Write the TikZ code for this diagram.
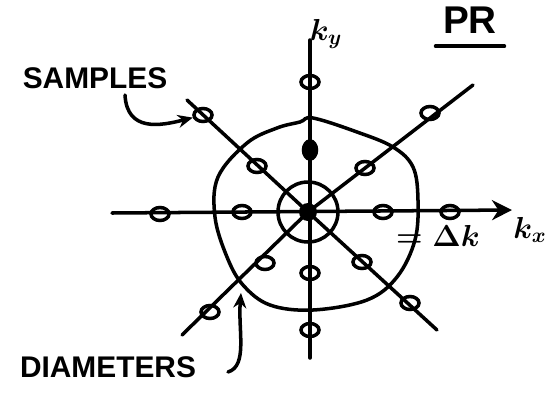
\documentclass[tikz,border=0pt]{standalone}
\usepackage{fontspec}
\setmainfont{Liberation Sans}
\usetikzlibrary{shapes.geometric,arrows.meta}
\begin{document}
\begin{tikzpicture}[
            x=0.02cm, y=-0.02cm,
            line width=2pt, line cap=round,
            every node/.style={font=\bfseries\boldmath\fontsize{17}{19}\selectfont},
            sample/.style={ellipse,draw,line width=2pt,minimum width=0.36cm,minimum height=0.26cm,inner sep=0pt},
            blob/.style={sample,fill,rotate=90},
            leader/.style={line width=2pt,-{Stealth[length=3mm,width=2.6mm]}}
        ]
        \useasboundingbox (0,0) rectangle (549,393);

        % axes and diameters
        \coordinate (xl) at (112,213);
        \coordinate (xr) at (512,210);
        \coordinate (yt) at (310,40);
        \coordinate (yb) at (310,358);
        \coordinate (d1a) at (187,100);
        \coordinate (d1b) at (437,330);
        \coordinate (d2a) at (473,85);
        \coordinate (d2b) at (182,335);
        \node[circle,fill,minimum size=0.36cm,inner sep=0pt] (c) at (308,212) {};

        \draw[-{Stealth[length=4mm,width=4mm]}] (xl) -- (xr);
        \draw (yt) -- (yb);
        \draw (d1a) -- (c.center) -- (d1b);
        \draw (d2a) -- (c.center) -- (d2b);

        % circles
        \draw (c) circle[radius=0.6cm];
        \draw plot[smooth cycle,tension=0.6] coordinates {
                (300,122) (313,118) (357,132) (393,147) (413,167) (418,200)
                (415,240) (397,277) (367,300) (313,310) (270,305) (243,285)
                (227,257) (215,217) (218,177) (247,143) (277,128)};

        % samples
        \foreach \n/\x/\y in {1/160/214, 2/242/212, 3/383/212, 4/450/212,
                5/310/82, 7/310/273, 8/310/330,
                9/203/115, 10/257/166, 11/362/262, 12/410/303,
                13/430/113, 14/365/168, 15/265/263, 16/210/312}
            \node[sample] (s\n) at (\x,\y) {};
        \node[blob] (s6) at (310,150) {};

        % labels
        \node (ky) at (326,34) {$k_y$};
        \node (kx) at (530,230) {$k_x$};
        \node (pr) at (470,20) {\fontsize{22}{24}\selectfont PR};
        \draw ([yshift=-3pt]pr.south west) -- ([yshift=-3pt]pr.south east);
        \node (dk) at (438,236) {$=\Delta k$};
        \node (samples) at (95,78) {SAMPLES};
        \node (diam) at (108,367) {DIAMETERS};

        \coordinate (sl) at (125,95);
        \coordinate (dl) at (228,372);
        \coordinate (rim) at (241,293);
        \draw[leader] (sl) .. controls (127,132) and (160,126) .. (s9);
        \draw[leader] (dl) .. controls (248,366) and (238,330) .. (rim);

    \end{tikzpicture}
\end{document}
